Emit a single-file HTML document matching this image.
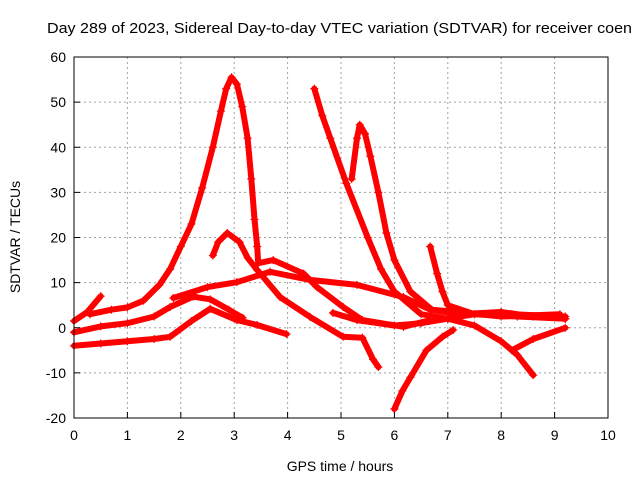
<!DOCTYPE html>
<html><head><meta charset="utf-8">
<style>
html,body{margin:0;padding:0;background:#fff;}
svg{display:block;font-family:"Liberation Sans",sans-serif;}
</style></head>
<body>
<svg id="chart" width="640" height="480" viewBox="0 0 640 480">
<rect width="640" height="480" fill="#fff"/>
<text x="47" y="33" font-size="15" textLength="585" lengthAdjust="spacingAndGlyphs">Day 289 of 2023, Sidereal Day-to-day VTEC variation (SDTVAR) for receiver coen</text>
<g id="grid"></g>
<g id="series"></g>
<rect x="74" y="57" width="534" height="361" fill="none" stroke="#000" stroke-width="1"/>
<g id="axes"></g>
<text x="340" y="471" font-size="14" text-anchor="middle">GPS time / hours</text>
<text x="20" y="237" font-size="14" text-anchor="middle" transform="rotate(-90 20 237)">SDTVAR / TECUs</text>
</svg>
<script>
const xTicks=[0,1,2,3,4,5,6,7,8,9,10];
const yTicks=[-20,-10,0,10,20,30,40,50,60];
const track1=[[0,-4],[0.5,-3.5],[1,-3],[1.5,-2.5],[1.8,-2],[2.2,1.5],[2.55,4.2],[3.05,1.7],[3.43,0.6],[3.98,-1.4]];
const track2=[[0,-1],[0.5,0.3],[1,1],[1.5,2.5],[1.8,4.6],[2.23,6.9],[2.55,6.3],[2.9,4],[3.16,2.2]];
const track3=[[0,1.5],[0.25,3.5],[0.5,7]];
const track4=[[0.3,3],[0.7,4],[1,4.5],[1.3,6],[1.6,9.5],[1.8,13],[2,18],[2.2,23],[2.4,31],[2.6,40],[2.75,48],[2.85,53],[2.95,55.5],[3.05,54],[3.15,49],[3.25,42],[3.32,33],[3.38,24],[3.43,18],[3.45,14.3],[3.73,15],[4.3,12],[4.55,9],[5.04,4.6],[5.4,1.7],[6.17,0.2],[6.67,1.7]];
const track5=[[2.6,16],[2.7,19],[2.87,21],[3.1,19],[3.25,15.5],[3.43,12.8],[3.86,6.8],[4.42,2.4],[5.04,-2],[5.4,-2.2],[5.6,-7],[5.7,-8.7]];
const track6=[[1.86,6.6],[2.5,9],[3.05,10.1],[3.67,12.4],[4.42,10.6],[5.3,9.5],[6.17,6.8],[6.67,4],[7.2,3],[8,3.5],[8.6,2.5],[9.2,2]];
const track7=[[4.5,53],[4.65,47],[4.8,42],[5.1,32],[5.5,20],[5.75,13],[6,8],[6.5,3],[7,2],[7.5,3],[8.2,3],[9.2,2.5]];
const track8=[[5.2,33],[5.3,42],[5.35,45],[5.45,43],[5.55,38],[5.7,30],[5.85,21],[6,15],[6.3,8],[6.7,4],[7.2,3.5],[8,2.5],[9.1,3]];
const track9=[[6.67,18],[6.8,12],[6.9,8],[7,5],[7.5,3],[8.3,2.5],[9.2,2]];
const track10=[[6,-18],[6.15,-14],[6.3,-11],[6.6,-5],[6.9,-2],[7.1,-0.5]];
const track11=[[4.85,3.3],[5.3,1.7],[6,0.5],[6.5,1],[7,2],[7.5,0.5],[8,-3],[8.3,-6],[8.6,-10.5]];
const track12=[[8.2,-5],[8.6,-2.5],[9.2,0]];
const tracks=[track1,track2,track3,track4,track5,track6,track7,track8,track9,track10,track11,track12];
const X0=74,X1=608,Y0=418,Y1=57;
function xs(v){return X0+(v-0)/(10-0)*(X1-X0);}
function ys(v){return Y0-(v+20)/(80)*(Y0-Y1);}
const NS='http://www.w3.org/2000/svg';
const grid=document.getElementById('grid'),axes=document.getElementById('axes'),ser=document.getElementById('series');
function mk(t,a){const e=document.createElementNS(NS,t);for(const k in a)e.setAttribute(k,a[k]);return e;}
xTicks.forEach(t=>{
 const x=xs(t);
 if(t>0&&t<10){const g=mk('line',{x1:x,x2:x,y1:Y1,y2:Y0,stroke:'#a0a0a0','stroke-dasharray':'2,3'});
 
 
 grid.appendChild(g);}
 const tk=mk('line',{x1:x,x2:x,y1:Y0,y2:Y0-6,stroke:'#000'});
 
 
 axes.appendChild(tk);
 const tx=mk('text',{x:x,y:Y0+22,'font-size':14,'text-anchor':'middle'});tx.textContent=t;
 
 
 axes.appendChild(tx);
});
yTicks.forEach(t=>{
 const y=ys(t);
 if(t>-20&&t<60){const g=mk('line',{x1:X0,x2:X1,y1:y,y2:y,stroke:'#a0a0a0','stroke-dasharray':'2,3'});
 
 
 grid.appendChild(g);}
 const tk=mk('line',{x1:X0,x2:X0+6,y1:y,y2:y,stroke:'#000'});
 
 
 axes.appendChild(tk);
 const tx=mk('text',{x:X0-8,y:y+5,'font-size':14,'text-anchor':'end'});tx.textContent=t;
 
 
 axes.appendChild(tx);
});
tracks.forEach((tr,i)=>{
 const d=tr.map((p,j)=>(j?'L':'M')+xs(p[0]).toFixed(1)+' '+ys(p[1]).toFixed(1)).join(' ');
 const p=mk('path',{d:d,fill:'none',stroke:'#ff0000','stroke-width':6,'stroke-linejoin':'round','stroke-linecap':'round'});
 
 
 ser.appendChild(p);
 tr.forEach(pt=>{
  const x=xs(pt[0]),y=ys(pt[1]);
  const m=mk('path',{d:`M${x-4} ${y}H${x+4}M${x} ${y-4}V${y+4}`,stroke:'#ff0000','stroke-width':1.2});
  
  
  ser.appendChild(m);
 });
});
</script>
</body></html>
